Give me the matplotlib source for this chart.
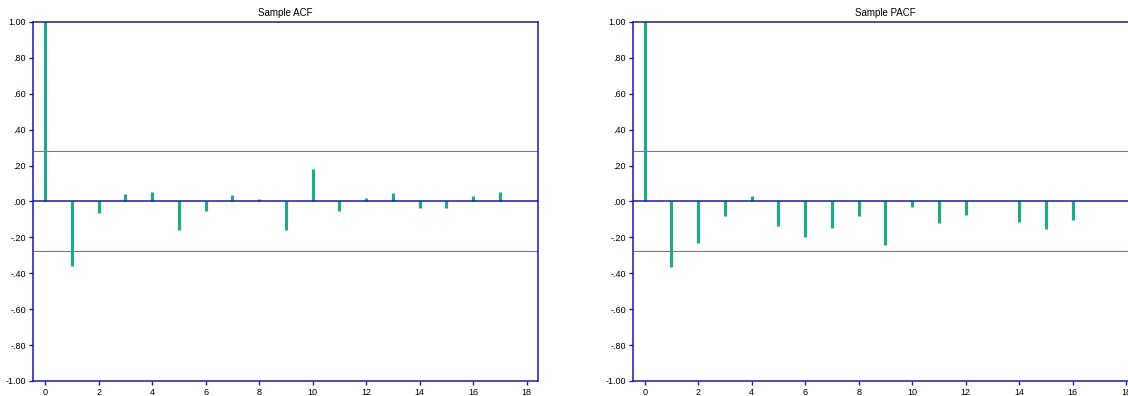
import numpy as np
import matplotlib
matplotlib.use("Agg")
import matplotlib.pyplot as plt

plt.rcParams['font.family'] = ['Liberation Sans', 'DejaVu Sans']

# Sample ACF / PACF values
acf_lags = list(range(18))
acf_vals = [1.0, -0.361, -0.066, 0.042, 0.053, -0.157, -0.053, 0.036, 0.014,
            -0.157, 0.181, -0.053, 0.019, 0.049, -0.036, -0.036, 0.031, 0.055]

pacf_lags = [0, 1, 2, 3, 4, 5, 6, 7, 8, 9, 10, 11, 12, 14, 15, 16]
pacf_vals = [1.0, -0.363, -0.229, -0.081, 0.031, -0.135, -0.200, -0.146, -0.079,
             -0.242, -0.029, -0.121, -0.073, -0.116, -0.153, -0.103]

conf_upper = 0.283
conf_lower = -0.277

ytick_vals = [1.0, 0.8, 0.6, 0.4, 0.2, 0.0, -0.2, -0.4, -0.6, -0.8, -1.0]
ytick_labels = ['1.00', '.80', '.60', '.40', '.20', '.00',
                '-.20', '-.40', '-.60', '-.80', '-1.00']
xtick_vals = list(range(0, 19, 2))

navy = '#1c1c96'
bar_color = '#22a88b'
band_color = '#6a6ad8'


def draw_panel(ax, lags, vals, title):
    ax.vlines(lags, 0, vals, colors=bar_color, linewidth=2.3)
    ax.axhline(0, color=navy, linewidth=1.1)
    ax.axhline(conf_upper, color=band_color, linewidth=0.7)
    ax.axhline(conf_lower, color=band_color, linewidth=0.7)
    ax.set_xlim(-0.45, 18.43)
    ax.set_ylim(-1.0, 1.0)
    ax.set_yticks(ytick_vals)
    ax.set_yticklabels(ytick_labels)
    ax.set_xticks(xtick_vals)
    ax.tick_params(direction='out', length=3, width=1, color=navy,
                   labelsize=6.5, pad=2)
    for s in ax.spines.values():
        s.set_color(navy)
        s.set_linewidth(1.1)
    ax.set_title(title, fontsize=7, pad=4)


fig = plt.figure(figsize=(11.28, 3.96), dpi=100)
ax1 = fig.add_axes([0.0293, 0.0379, 0.4477, 0.9066])
ax2 = fig.add_axes([0.5609, 0.0379, 0.4477, 0.9066])

draw_panel(ax1, acf_lags, acf_vals, 'Sample ACF')
draw_panel(ax2, pacf_lags, pacf_vals, 'Sample PACF')

fig.savefig('out.png', dpi=100)
